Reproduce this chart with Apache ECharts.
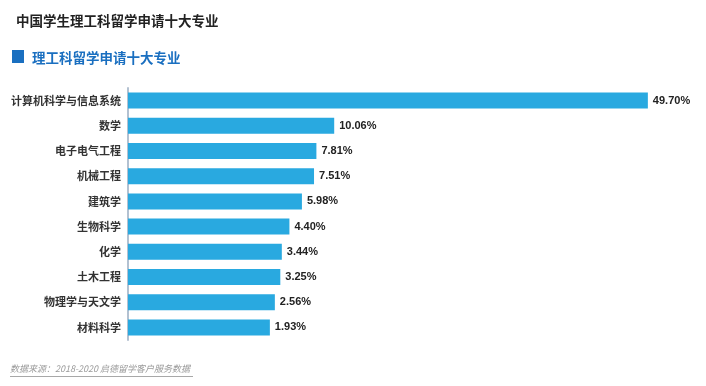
<!DOCTYPE html>
<html>
<head>
<meta charset="utf-8">
<script src="https://cdn.jsdelivr.net/npm/echarts@6/dist/echarts.min.js"></script>
<style>
html,body{margin:0;padding:0;background:#fff;}
#chart{width:706px;height:386px;}
</style>
</head>
<body>
<div id="chart"></div>
<script>
const categories = ['计算机科学与信息系统','数学','电子电气工程','机械工程','建筑学','生物科学','化学','土木工程','物理学与天文学','材料科学'];
const shares = [49.70, 10.06, 7.81, 7.51, 5.98, 4.40, 3.44, 3.25, 2.56, 1.93];
const mainTitle = '中国学生理工科留学申请十大专业';
const subTitle = '理工科留学申请十大专业';
const sourceNote = '数据来源：2018-2020 启德留学客户服务数据';

const cjk = '"Noto Sans CJK SC", "Noto Sans", sans-serif';
const chart = echarts.init(document.getElementById('chart'));
chart.setOption({
  animation: false,
  backgroundColor: '#ffffff',
  title: [
    { text: mainTitle, left: 11, top: 9, textStyle: { fontFamily: cjk, fontSize: 13.5, fontWeight: 'bold', color: '#222222' } },
    { text: subTitle, left: 27, top: 46, textStyle: { fontFamily: cjk, fontSize: 13.5, fontWeight: 'bold', color: '#1a6fc0' } }
  ],
  graphic: [
    { type: 'rect', left: 12, top: 50, shape: { width: 12, height: 13 }, style: { fill: '#1a6fc0' } },
    { type: 'text', left: 10, top: 364, style: { text: sourceNote, font: 'italic 9px ' + cjk, fill: '#9a9a9a' } },
    { type: 'line', shape: { x1: 10, y1: 376.5, x2: 193, y2: 376.5 }, style: { stroke: '#a8a8a8', lineWidth: 1 } }
  ],
  grid: { left: 128, right: 16.2, top: 88, bottom: 46, containLabel: false },
  xAxis: {
    type: 'value', min: -16, max: 55, startValue: -16,
    show: false
  },
  yAxis: {
    type: 'category', data: categories, inverse: true,
    axisLine: { show: true, onZero: false, lineStyle: { color: '#b3c1d1', width: 2 } },
    axisTick: { show: false },
    axisLabel: { margin: 7, fontFamily: cjk, fontSize: 11, fontWeight: 'bold', color: '#333333' },
    splitLine: { show: false }
  },
  series: [{
    type: 'bar', data: shares, barWidth: 16,
    itemStyle: { color: '#29a9e0' },
    label: {
      show: true, position: 'right', distance: 5,
      formatter: p => p.value.toFixed(2) + '%',
      fontFamily: '"Liberation Sans", Arial, sans-serif', fontSize: 11, fontWeight: 'bold', color: '#222222'
    }
  }]
});
</script>
</body>
</html>
